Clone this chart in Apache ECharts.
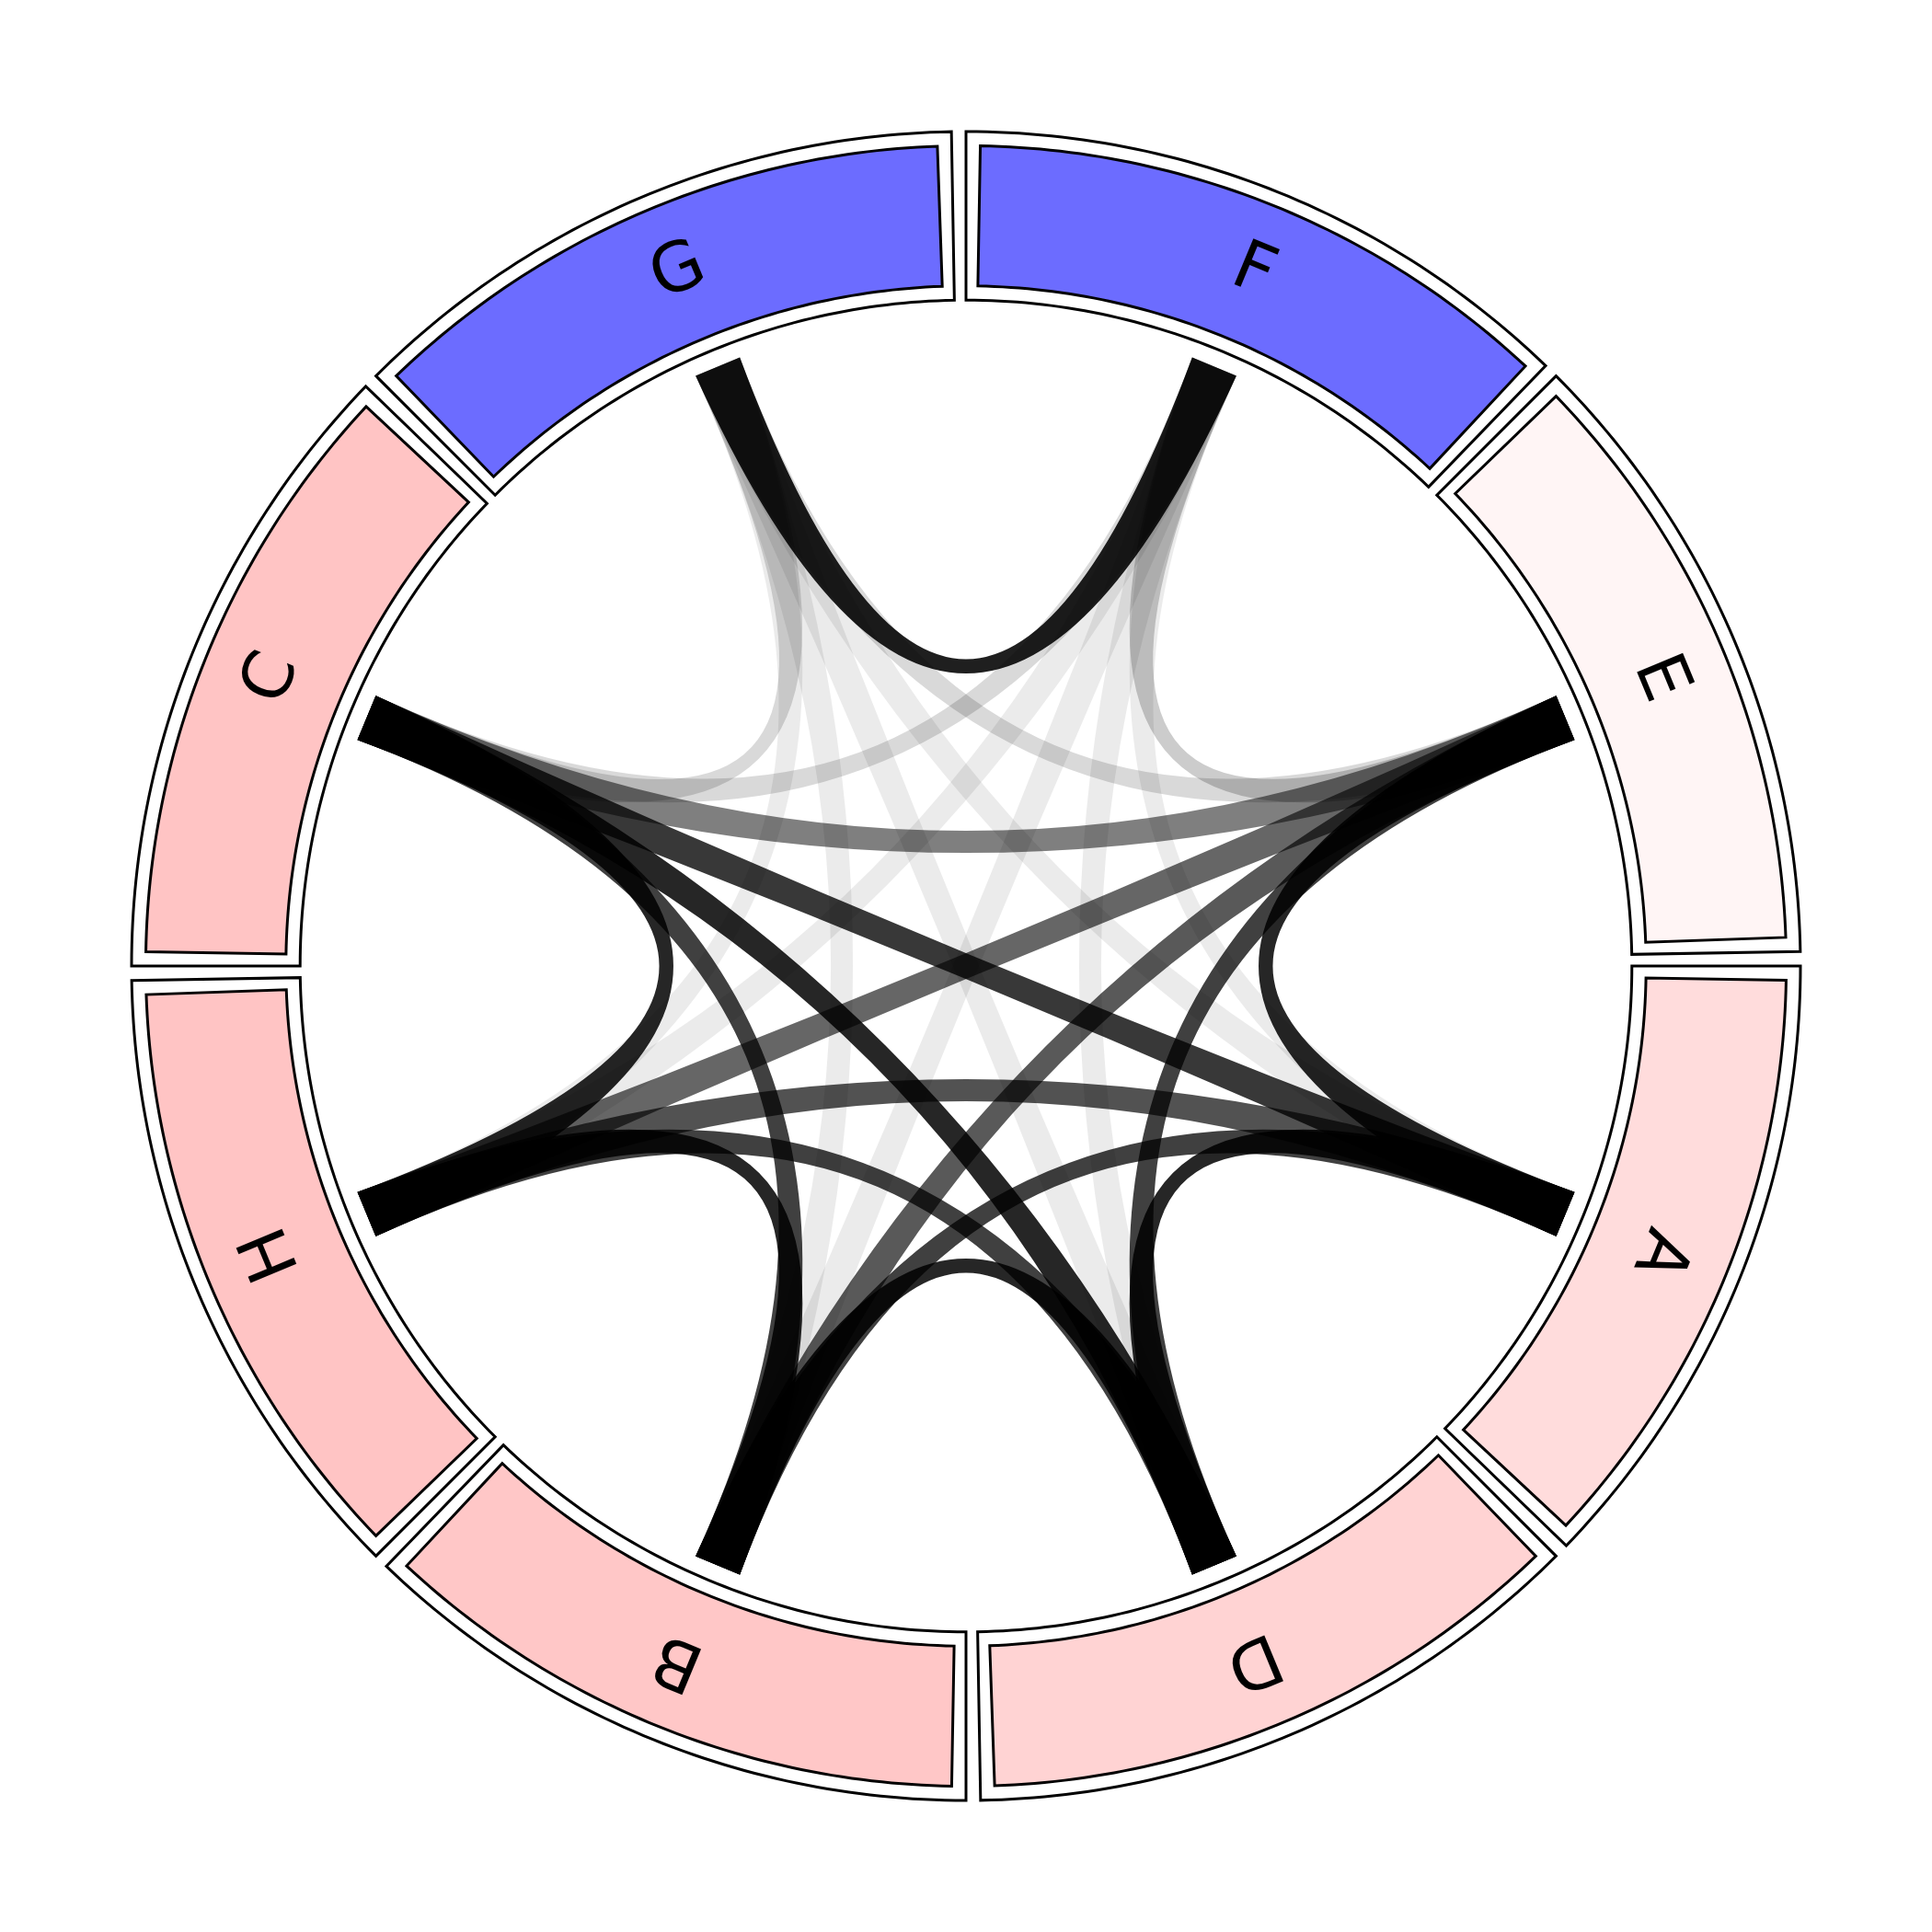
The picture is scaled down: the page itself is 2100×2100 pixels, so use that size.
<!DOCTYPE html>
<html>
<head>
<meta charset="utf-8">
<script src="https://cdn.jsdelivr.net/npm/echarts@6/dist/echarts.min.js"></script>
<style>
  html, body { margin: 0; background: #fff; }
  #chart { width: 2100px; height: 2100px; }
</style>
</head>
<body>
<div id="chart"></div>
<script>
// nodes clockwise from the top
const nodes = ['F', 'E', 'A', 'D', 'B', 'H', 'C', 'G'];
const nodeColors = ['#6c6cff', '#fff5f5', '#ffdcdc', '#ffd3d3', '#ffc7c7', '#ffc4c4', '#ffc4c4', '#6c6cff'];

// links: from, to, strength (drawn as opacity)
const linkFrom = ['G', 'E', 'A', 'D', 'B', 'H', 'E', 'A', 'D', 'B', 'E', 'D', 'E', 'A', 'E', 'A',
  'F', 'G', 'G', 'F', 'G', 'G', 'G', 'G', 'F', 'F', 'F', 'F'];
const linkTo = ['F', 'A', 'D', 'B', 'H', 'C', 'D', 'B', 'H', 'C', 'B', 'C', 'C', 'H', 'H', 'C',
  'E', 'C', 'E', 'C', 'A', 'D', 'B', 'H', 'A', 'D', 'B', 'H'];
const linkValue = [0.88, 0.85, 0.85, 0.85, 0.85, 0.85, 0.75, 0.75, 0.75, 0.75, 0.65, 0.85, 0.5, 0.68, 0.6, 0.78,
  0.2, 0.15, 0.15, 0.15, 0.08, 0.08, 0.08, 0.08, 0.08, 0.08, 0.08, 0.08];

const step = 360 / nodes.length;
const ringOuter = [0.798, 1.0];
const ringInner = [0.815, 0.983];
const linkR = 0.778;
const linkHalf = 2.11; // degrees
const minHalfWidth = 7.5; // px at the middle of a link

const chart = echarts.init(document.getElementById('chart'));

function arcPoints(api, r, a0, a1, n) {
  const pts = [];
  for (let k = 0; k <= n; k++) {
    pts.push(api.coord([r, a0 + (a1 - a0) * k / n]));
  }
  return pts;
}

function boxPolygon(api, r0, r1, a0, a1) {
  return arcPoints(api, r1, a0, a1, 60).concat(arcPoints(api, r0, a1, a0, 60));
}

function renderNode(params, api) {
  const i = api.value(0);
  const a = i * step;
  const mid = a + step / 2;
  const p = api.coord([(ringInner[0] + ringInner[1]) / 2, mid]);
  return {
    type: 'group',
    children: [
      {
        type: 'polygon',
        shape: { points: boxPolygon(api, ringOuter[0], ringOuter[1], a, a + step - 1) },
        style: { fill: '#fff', stroke: '#000', lineWidth: 3 }
      },
      {
        type: 'polygon',
        shape: { points: boxPolygon(api, ringInner[0], ringInner[1], a + 1, a + step - 2) },
        style: { fill: nodeColors[i], stroke: '#000', lineWidth: 3 }
      },
      {
        type: 'text',
        x: p[0],
        y: p[1],
        rotation: -mid * Math.PI / 180,
        style: {
          text: nodes[i],
          fontFamily: 'DejaVu Sans',
          fontSize: 74,
          fill: '#000',
          align: 'center',
          verticalAlign: 'middle'
        }
      }
    ]
  };
}

function renderLink(params, api) {
  const ai = api.value(0) * step + step / 2;
  const aj = api.value(1) * step + step / 2;
  const v = api.value(2);
  const c = api.coord([0, 0]);
  const p0 = api.coord([linkR, ai]);
  const p2 = api.coord([linkR, aj]);
  const p0a = api.coord([linkR, ai - linkHalf]);
  const p0b = api.coord([linkR, ai + linkHalf]);
  const p2a = api.coord([linkR, aj - linkHalf]);
  const p2b = api.coord([linkR, aj + linkHalf]);
  // offset of the first edge at the middle of the link
  const ox = 0.25 * (p0b[0] - p0[0] + p2a[0] - p2[0]);
  const oy = 0.25 * (p0b[1] - p0[1] + p2a[1] - p2[1]);
  const h = Math.sqrt(ox * ox + oy * oy);
  const s = Math.max(0, 2 * (minHalfWidth - h));
  const ux = h > 0 ? ox / h : 0;
  const uy = h > 0 ? oy / h : 0;
  const c1 = [c[0] + s * ux, c[1] + s * uy];
  const c2 = [c[0] - s * ux, c[1] - s * uy];
  const d = 'M' + p0b[0] + ' ' + p0b[1] +
    ' Q' + c1[0] + ' ' + c1[1] + ' ' + p2a[0] + ' ' + p2a[1] +
    ' L' + p2b[0] + ' ' + p2b[1] +
    ' Q' + c2[0] + ' ' + c2[1] + ' ' + p0a[0] + ' ' + p0a[1] + ' Z';
  return {
    type: 'path',
    shape: { pathData: d },
    style: { fill: 'rgba(0,0,0,' + v + ')', stroke: null }
  };
}

const linkData = linkFrom.map(function (f, k) {
  return [nodes.indexOf(f), nodes.indexOf(linkTo[k]), linkValue[k]];
});

chart.setOption({
  backgroundColor: '#fff',
  animation: false,
  polar: { center: ['50%', '50%'], radius: 907 },
  angleAxis: { type: 'value', min: 0, max: 360, startAngle: 90, clockwise: true, show: false },
  radiusAxis: { type: 'value', min: 0, max: 1, show: false },
  series: [
    {
      type: 'custom',
      coordinateSystem: 'polar',
      renderItem: renderLink,
      data: linkData
    },
    {
      type: 'custom',
      coordinateSystem: 'polar',
      renderItem: renderNode,
      data: nodes.map(function (n, i) { return [i]; })
    }
  ]
});
</script>
</body>
</html>
